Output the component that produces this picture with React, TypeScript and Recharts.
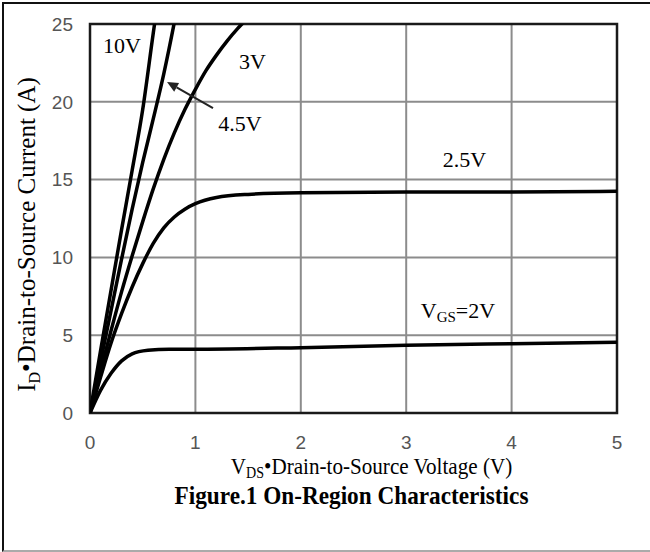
import React from "react";
import {
  LineChart,
  Line,
  XAxis,
  YAxis,
  CartesianGrid,
  ReferenceArea,
  ReferenceDot,
  ReferenceLine,
} from "recharts";

// V_DS (V) vs I_D (A) for each gate voltage
const vgs10V = [
  { vds: 0, id: 0 },
  { vds: 0.1, id: 4.0 },
  { vds: 0.2, id: 7.9 },
  { vds: 0.3, id: 11.8 },
  { vds: 0.4, id: 15.6 },
  { vds: 0.5, id: 19.5 },
  { vds: 0.6, id: 24.4 },
  { vds: 0.625, id: 25.6 },
];
const vgs4p5V = [
  { vds: 0, id: 0 },
  { vds: 0.1, id: 3.3 },
  { vds: 0.2, id: 6.6 },
  { vds: 0.3, id: 9.9 },
  { vds: 0.4, id: 13.1 },
  { vds: 0.5, id: 16.1 },
  { vds: 0.6, id: 18.9 },
  { vds: 0.7, id: 21.8 },
  { vds: 0.8, id: 25.1 },
  { vds: 0.82, id: 25.8 },
];
const vgs3V = [
  { vds: 0, id: 0 },
  { vds: 0.1, id: 2.7 },
  { vds: 0.2, id: 5.3 },
  { vds: 0.3, id: 7.8 },
  { vds: 0.4, id: 10.1 },
  { vds: 0.5, id: 12.3 },
  { vds: 0.6, id: 14.4 },
  { vds: 0.7, id: 16.3 },
  { vds: 0.8, id: 18.0 },
  { vds: 0.9, id: 19.5 },
  { vds: 1.0, id: 20.8 },
  { vds: 1.1, id: 22.0 },
  { vds: 1.2, id: 23.0 },
  { vds: 1.3, id: 23.9 },
  { vds: 1.4, id: 24.7 },
  { vds: 1.5, id: 25.4 },
];
const vgs2p5V = [
  { vds: 0, id: 0 },
  { vds: 0.1, id: 2.3 },
  { vds: 0.2, id: 4.5 },
  { vds: 0.3, id: 6.4 },
  { vds: 0.4, id: 8.1 },
  { vds: 0.5, id: 9.6 },
  { vds: 0.6, id: 10.9 },
  { vds: 0.7, id: 11.9 },
  { vds: 0.8, id: 12.6 },
  { vds: 0.9, id: 13.1 },
  { vds: 1.0, id: 13.45 },
  { vds: 1.2, id: 13.85 },
  { vds: 1.5, id: 14.05 },
  { vds: 2, id: 14.15 },
  { vds: 3, id: 14.2 },
  { vds: 4, id: 14.2 },
  { vds: 5, id: 14.25 },
];
const vgs2V = [
  { vds: 0, id: 0 },
  { vds: 0.1, id: 1.45 },
  { vds: 0.2, id: 2.55 },
  { vds: 0.3, id: 3.35 },
  { vds: 0.4, id: 3.8 },
  { vds: 0.55, id: 4.03 },
  { vds: 0.75, id: 4.1 },
  { vds: 1, id: 4.1 },
  { vds: 2, id: 4.2 },
  { vds: 3, id: 4.35 },
  { vds: 4, id: 4.45 },
  { vds: 5, id: 4.55 },
];

const xTicks = [0, 1, 2, 3, 4, 5];
const yTicks = [0, 5, 10, 15, 20, 25];

// curve annotations: label text and position (V_DS, I_D)
const curveLabels = [
  { text: "10V", vds: 0.304, id: 23.62 },
  { text: "3V", vds: 1.542, id: 22.58 },
  { text: "4.5V", vds: 1.423, id: 18.6 },
  { text: "2.5V", vds: 3.553, id: 16.26 },
];
const vgsLabel = { vds: 3.491, id: 6.56 };
const arrow = { fromV: 1.167, fromI: 19.6, toV: 0.731, toI: 21.27 };

const SERIF = "'Liberation Serif', 'Times New Roman', serif";
const SANS = "'Liberation Sans', Arial, sans-serif";

const LabelText = (props: any) => {
  const { cx, cy, text } = props;
  return (
    <text
      x={cx}
      y={cy + 7.5}
      textAnchor="middle"
      fontFamily={SERIF}
      fontSize={22}
      fill="#000"
    >
      {text}
    </text>
  );
};

const VgsText = (props: any) => {
  const { cx, cy } = props;
  return (
    <text
      x={cx}
      y={cy + 7.5}
      textAnchor="middle"
      fontFamily={SERIF}
      fontSize={22}
      fill="#000"
    >
      <tspan>V</tspan>
      <tspan fontSize={15} dy={4}>GS</tspan>
      <tspan dy={-4}>=2V</tspan>
    </text>
  );
};

const ArrowShape = (props: any) => {
  const { x1, y1, x2, y2 } = props;
  if (x1 == null) return null;
  const ang = Math.atan2(y2 - y1, x2 - x1);
  const len = 11;
  const w = 5;
  const bx = x2 - len * Math.cos(ang);
  const by = y2 - len * Math.sin(ang);
  const px = -Math.sin(ang) * w;
  const py = Math.cos(ang) * w;
  return (
    <g>
      <line x1={x1} y1={y1} x2={bx} y2={by} stroke="#222" strokeWidth={2} />
      <polygon
        points={`${x2},${y2} ${bx + px},${by + py} ${bx - px},${by - py}`}
        fill="#222"
      />
    </g>
  );
};

const XTitle = (props: any) => {
  const vb = props.viewBox || { x: 90, y: 413, width: 527 };
  const cx = vb.x + vb.width / 2;
  const axisY = vb.y;
  return (
    <g>
      <text
        transform={`translate(${cx + 18},${axisY + 61}) scale(0.88,1)`}
        textAnchor="middle"
        fontFamily={SERIF}
        fontSize={24}
        fill="#000"
      >
        <tspan>V</tspan>
        <tspan fontSize={16} dy={4}>DS</tspan>
        <tspan dy={-4}>•Drain-to-Source Voltage (V)</tspan>
      </text>
      <text
        transform={`translate(${cx - 2},${axisY + 91}) scale(0.93,1)`}
        textAnchor="middle"
        fontFamily={SERIF}
        fontWeight="bold"
        fontSize={25}
        fill="#000"
      >
        Figure.1 On-Region Characteristics
      </text>
    </g>
  );
};

const YTitle = (props: any) => {
  const vb = props.viewBox || { x: 0, y: 24, width: 90, height: 389 };
  const cy = vb.y + vb.height / 2 + 16;
  const x = 35;
  return (
    <text
      transform={`translate(${x},${cy}) rotate(-90)`}
      textAnchor="middle"
      fontFamily={SERIF}
      fontSize={25}
      fill="#000"
    >
      <tspan>I</tspan>
      <tspan fontSize={16} dy={5}>D</tspan>
      <tspan dy={-5}>•Drain-to-Source Current (A)</tspan>
    </text>
  );
};

const series = [vgs10V, vgs4p5V, vgs3V, vgs2p5V, vgs2V];

export default function App() {
  return (
    <div
      style={{
        position: "absolute",
        left: 0,
        top: 0,
        width: 650,
        height: 552,
        background: "#fff",
        overflow: "hidden",
      }}
    >
      <div
        style={{
          position: "absolute",
          left: 2,
          top: 2,
          width: 700,
          height: 550,
          boxSizing: "border-box",
          borderLeft: "2px solid #111",
          borderTop: "2px solid #111",
          borderBottom: "2px solid #aaa",
        }}
      />
      <div style={{ position: "absolute", left: 0, top: 0 }}>
        <LineChart
          width={650}
          height={552}
          margin={{ top: 24, right: 33, bottom: 99, left: 0 }}
        >
          <CartesianGrid stroke="#8c8c8c" strokeWidth={2} />
          <XAxis
            dataKey="vds"
            type="number"
            domain={[0, 5]}
            ticks={xTicks}
            allowDataOverflow
            height={40}
            tickLine={false}
            axisLine={false}
            tickSize={0}
            tickMargin={23}
            tick={{ fontFamily: SANS, fontSize: 19, fill: "#555" }}
            label={{ content: (p: any) => <XTitle {...p} /> }}
          />
          <YAxis
            type="number"
            domain={[0, 25]}
            ticks={yTicks}
            allowDataOverflow
            width={90}
            tickLine={false}
            axisLine={false}
            tickSize={0}
            tickMargin={17}
            tick={{ fontFamily: SANS, fontSize: 19, fill: "#555" }}
            label={{ content: (p: any) => <YTitle {...p} /> }}
          />
          <ReferenceArea
            x1={0}
            x2={5}
            y1={0}
            y2={25}
            fill="none"
            fillOpacity={0}
            stroke="#1a1a1a"
            strokeWidth={2.5}
            ifOverflow="visible"
          />
          {series.map((d, i) => (
            <Line
              key={i}
              data={d}
              dataKey="id"
              type="monotone"
              stroke="#000"
              strokeWidth={3.5}
              dot={false}
              activeDot={false}
              isAnimationActive={false}
            />
          ))}
          <ReferenceLine
            segment={[
              { x: arrow.fromV, y: arrow.fromI },
              { x: arrow.toV, y: arrow.toI },
            ]}
            shape={(p: any) => <ArrowShape {...p} />}
            ifOverflow="visible"
          />
          {curveLabels.map((l) => (
            <ReferenceDot
              key={l.text}
              x={l.vds}
              y={l.id}
              r={0}
              ifOverflow="visible"
              shape={(p: any) => <LabelText {...p} text={l.text} />}
            />
          ))}
          <ReferenceDot
            x={vgsLabel.vds}
            y={vgsLabel.id}
            r={0}
            ifOverflow="visible"
            shape={(p: any) => <VgsText {...p} />}
          />
        </LineChart>
      </div>
    </div>
  );
}
